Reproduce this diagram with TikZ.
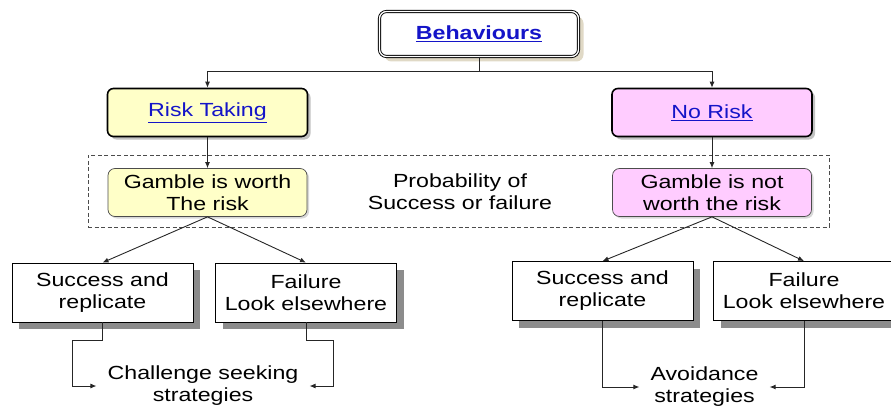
\documentclass[tikz,border=0pt]{standalone}
\usepackage{fontspec}
\setmainfont{Liberation Sans}[FakeStretch=1.22]
\usetikzlibrary{arrows.meta,shadows}
\definecolor{riskyellow}{HTML}{FFFFC8}
\definecolor{nopink}{HTML}{FFCCFF}
\definecolor{linkblue}{HTML}{1414C8}
\definecolor{beigeshade}{HTML}{D8D0B8}
\newcommand\linktext[1]{\textcolor{linkblue}{\underline{#1}}}

\begin{document}
\begin{tikzpicture}[x=1pt,y=-1pt,
  font=\fontsize{19}{22}\selectfont,
  conn/.style={-{Latex[length=6pt,width=5pt]},line width=0.9pt,black!85},
  rootbox/.style={draw,double,double distance=1.3pt,line width=0.9pt,
    rounded corners=7pt,fill=white,minimum width=199pt,minimum height=45pt,
    inner sep=0pt,drop shadow={shadow xshift=5pt,shadow yshift=-5pt,
    fill=beigeshade,opacity=0.8}},
  headbox/.style={draw,line width=1.6pt,rounded corners=6pt,
    minimum width=200pt,minimum height=48pt,inner sep=0pt,
    drop shadow={shadow xshift=3pt,shadow yshift=-3pt,fill=black!40,opacity=0.6}},
  choicebox/.style={draw=black!70,line width=0.7pt,rounded corners=7pt,
    minimum width=199pt,minimum height=48pt,inner sep=0pt,align=center,
    drop shadow={shadow xshift=2pt,shadow yshift=-2pt,fill=black!30,opacity=0.5}},
  band/.style={draw=black!70,line width=1pt,dash pattern=on 4pt off 2.5pt,
    minimum width=741pt,minimum height=72pt,inner sep=0pt},
  outbox/.style={draw,line width=0.8pt,fill=white,minimum width=181pt,
    minimum height=59pt,inner sep=0pt,align=center,
    drop shadow={shadow xshift=7pt,shadow yshift=-7pt,fill=black!45,opacity=1}},
  goal/.style={align=center,inner sep=11pt}]
  \useasboundingbox (0,0) rectangle (891,412);

  \node[rootbox] (beh) at (479,34) {\linktext{\textbf{Behaviours}}};
  \node[headbox,fill=riskyellow] (risk) at (207.5,112.5) {\linktext{Risk Taking}};
  \node[headbox,fill=nopink] (norisk) at (712,112.5) {\linktext{No Risk}};

  % dashed band holding the two judgements
  \node[band] (band) at (458.5,191) {};
  \node[choicebox,fill=riskyellow] (worth) at (207.5,192.5) {Gamble is worth\\The risk};
  \node[choicebox,fill=nopink] (notworth) at (712,192.5) {Gamble is not\\worth the risk};
  \node[align=center] (prob) at (460,192) {Probability of\\Success or failure};

  \node[outbox] (succL) at (102.5,292.5) {Success and\\replicate};
  \node[outbox] (failL) at (306,292.5) {Failure\\Look elsewhere};
  \node[outbox] (succR) at (602.5,291) {Success and\\replicate};
  \node[outbox] (failR) at (804,291) {Failure\\Look elsewhere};

  \node[goal] (seek) at (203,386) {Challenge seeking\\strategies};
  \node[goal] (avoid) at (704.5,387) {Avoidance\\strategies};

  \draw[conn] (beh.south) -- ++(0,14) -| (risk.north);
  \draw[conn] (beh.south) -- ++(0,14) -| (norisk.north);
  \draw[conn] (risk.south) -- (worth.north);
  \draw[conn] (norisk.south) -- (notworth.north);
  \draw[conn] (worth.south) -- (succL.north);
  \draw[conn] (worth.south) -- (failL.north);
  \draw[conn] (notworth.south) -- (succR.north);
  \draw[conn] (notworth.south) -- (failR.north);

  \draw[conn] (succL.south) -- ++(0,18) -- ++(-30,0) |- (seek.west);
  \draw[conn] (failL.south) -- ++(0,18) -- ++(27,0) |- (seek.east);
  \draw[conn] (succR.south) |- (avoid.west);
  \draw[conn] (failR.south) |- (avoid.east);
\end{tikzpicture}
\end{document}
